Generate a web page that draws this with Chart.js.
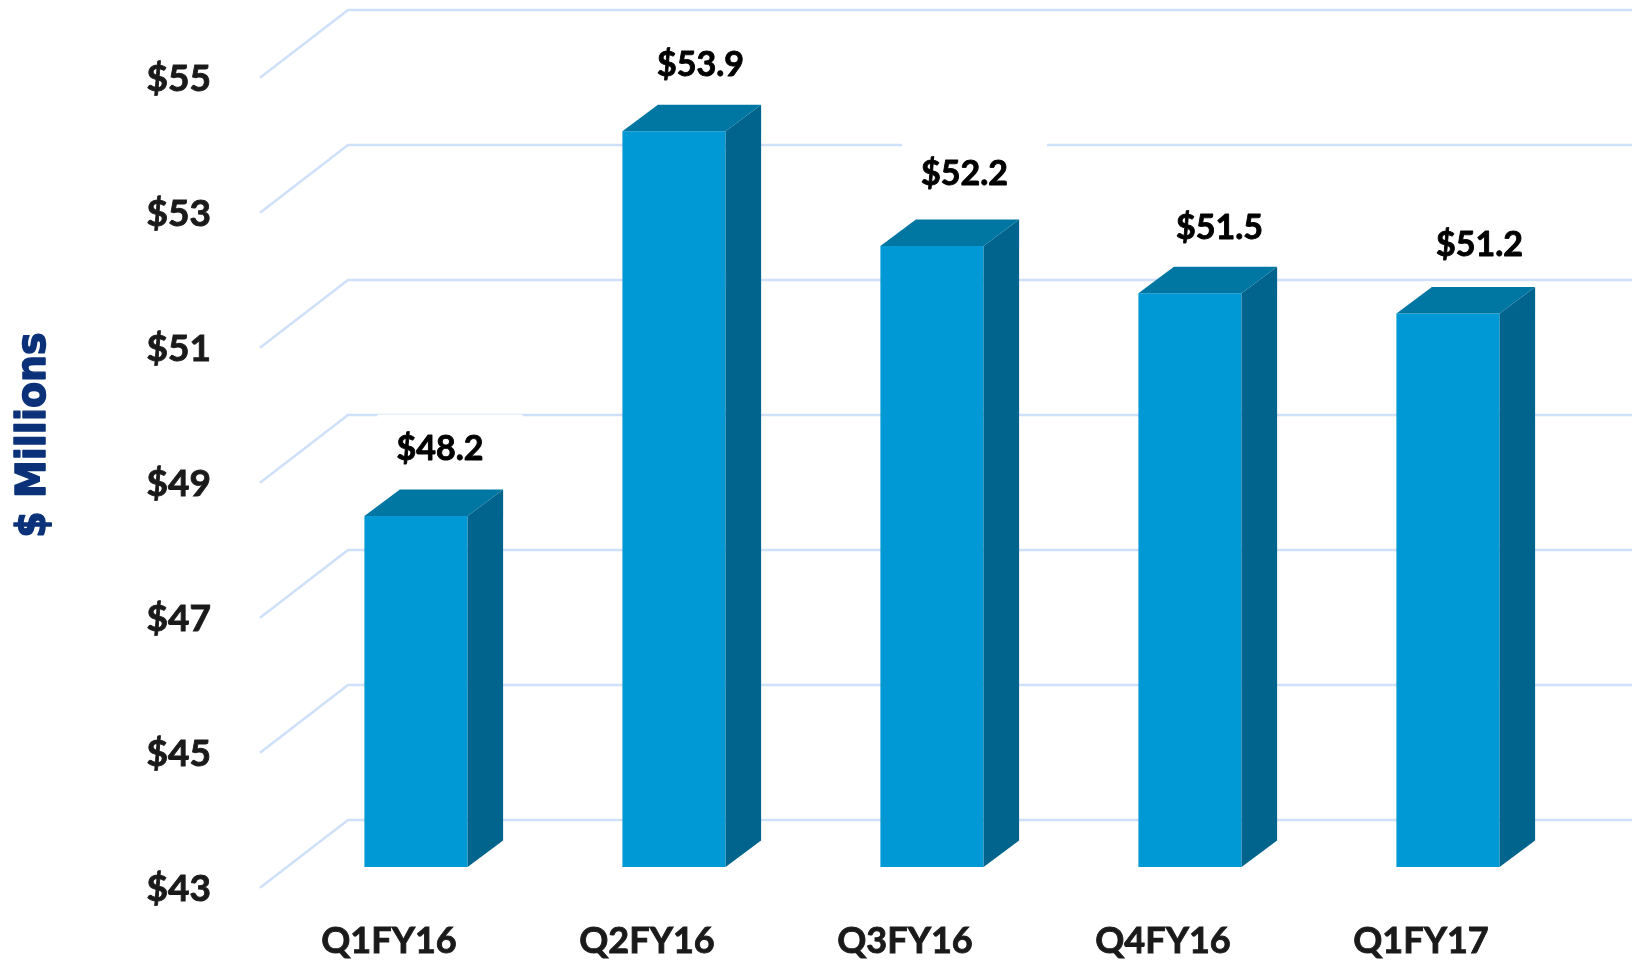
<!DOCTYPE html>
<html>
<head>
<meta charset="utf-8">
<style>html,body{margin:0;padding:0;background:#fff;overflow:hidden}canvas{display:block}</style>
<script src="https://cdn.jsdelivr.net/npm/chart.js@4"></script>
</head>
<body>
<canvas id="c" width="1632" height="962"></canvas>
<script>
const categories = ['Q1FY16', 'Q2FY16', 'Q3FY16', 'Q4FY16', 'Q1FY17'];
const values = [48.2, 53.9, 52.2, 51.5, 51.2];
const dataLabels = ['$48.2', '$53.9', '$52.2', '$51.5', '$51.2'];
const axisTitle = '$ Millions';
const yMin = 43;
const yMax = 55;
const yStep = 2;

const FONT = 'Lato, Carlito, sans-serif';
const labelShift = [[24, -69.5], [26.5, -68.5], [32.5, -74], [29.5, -68], [31.5, -70.5]];

function noPadding(s) { s.paddingTop = s.paddingBottom = s.paddingLeft = s.paddingRight = 0; }

const depthPlugin = {
  id: 'depth',
  beforeDatasetsDraw(chart) {
    const c = chart.ctx, y = chart.scales.y, a = chart.chartArea;
    c.save();
    c.strokeStyle = '#cee0fa';
    c.lineCap = 'butt';
    y.ticks.forEach(t => {
      const p = y.getPixelForValue(t.value);
      c.lineWidth = 2.5;
      c.beginPath();
      c.moveTo(a.left - 27, p + 20.7);
      c.lineTo(a.left + 61, p - 47);
      c.lineTo(chart.width + 5, p - 47);
      c.stroke();
    });
    const m = chart.getDatasetMeta(0);
    c.fillStyle = '#ffffff';
    m.data.forEach((b, i) => {
      const lx = b.x + labelShift[i][0], ly = b.y + labelShift[i][1];
      c.fillRect(lx + 10 - 72.5, ly - 32, 145, 64);
    });
    c.restore();
  },
  afterDatasetsDraw(chart) {
    const c = chart.ctx, m = chart.getDatasetMeta(0);
    const dx = 35.5, dy = 26.5;
    c.save();
    m.data.forEach(b => {
      const L = b.x - b.width / 2, R = b.x + b.width / 2, T = b.y, B = b.base;
      c.fillStyle = '#00648c';
      c.beginPath();
      c.moveTo(R, T); c.lineTo(R + dx, T - dy); c.lineTo(R + dx, B - dy); c.lineTo(R, B);
      c.closePath(); c.fill();
      c.fillStyle = '#0076a3';
      c.beginPath();
      c.moveTo(L, T); c.lineTo(L + dx, T - dy); c.lineTo(R + dx, T - dy); c.lineTo(R, T);
      c.closePath(); c.fill();
    });
    c.fillStyle = '#000000';
    c.strokeStyle = '#000000';
    c.lineWidth = 0.9;
    c.lineJoin = 'round';
    c.font = 'bold 34px ' + FONT;
    c.textAlign = 'center';
    c.textBaseline = 'middle';
    m.data.forEach((b, i) => {
      const x = b.x + labelShift[i][0], y = b.y + labelShift[i][1] + 2.5;
      c.fillText(dataLabels[i], x, y);
      c.strokeText(dataLabels[i], x, y);
    });
    c.translate(34, 435);
    c.rotate(-Math.PI / 2);
    c.scale(1, 1.08);
    c.fillStyle = '#0b3279';
    c.strokeStyle = '#0b3279';
    c.lineWidth = 1.4;
    c.font = 'bold 38px "DejaVu Sans", sans-serif';
    c.fillText(axisTitle, 0, 0);
    c.strokeText(axisTitle, 0, 0);
    c.restore();
  }
};

new Chart(document.getElementById('c'), {
  type: 'bar',
  data: {
    labels: categories,
    datasets: [{
      data: values,
      base: yMin,
      backgroundColor: '#0099d6',
      borderWidth: 0,
      barPercentage: 0.4,
      categoryPercentage: 1
    }]
  },
  options: {
    responsive: false,
    animation: false,
    layout: { padding: { top: 57, right: 55, left: 0, bottom: 0 } },
    plugins: { legend: { display: false }, title: { display: false }, tooltip: { enabled: false } },
    scales: {
      x: {
        grid: { display: false, drawTicks: false },
        border: { display: false },
        afterFit(s) { s.height = 95; noPadding(s); },
        ticks: {
          autoSkip: false, maxRotation: 0, minRotation: 0,
          labelOffset: -27, padding: 53,
          color: '#1a1a1a', textStrokeColor: '#1a1a1a', textStrokeWidth: 0.9,
          font: { family: FONT, size: 36, weight: 'bold' }
        }
      },
      y: {
        min: yMin, max: yMax,
        grid: { display: false, drawTicks: false },
        border: { display: false },
        afterFit(s) { s.width = 287; noPadding(s); },
        ticks: {
          stepSize: yStep, labelOffset: 22, padding: 76,
          color: '#1a1a1a', textStrokeColor: '#1a1a1a', textStrokeWidth: 0.9,
          font: { family: FONT, size: 37, weight: 'bold' },
          callback: v => '$' + v
        }
      }
    }
  },
  plugins: [depthPlugin]
});
</script>
</body>
</html>
